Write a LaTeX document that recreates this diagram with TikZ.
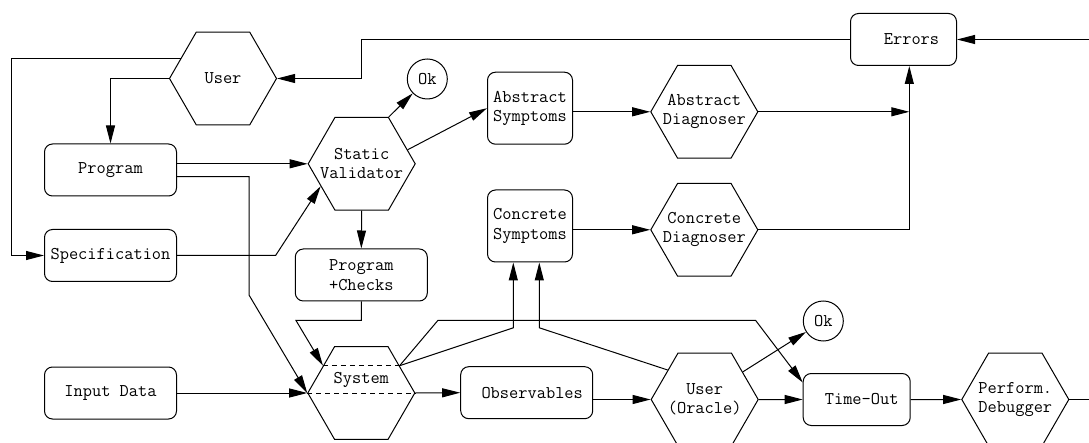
\documentclass[tikz,border=0pt]{standalone}
\usepackage{fontspec}
\usetikzlibrary{arrows.meta, positioning, shapes.geometric, calc}

\begin{document}
\begin{tikzpicture}[x=1pt, y=-1pt, line width=1pt,
    font=\ttfamily\fontsize{17.9}{19.3}\selectfont,
    >={Triangle[length=18pt, width=9pt]},
    B/.style={draw, rounded corners=8pt, minimum width=132pt, minimum height=52pt, inner sep=2pt, align=center},
    SB/.style={B, minimum width=85pt, minimum height=72pt},
    H/.style={draw, regular polygon, regular polygon sides=6, minimum size=107pt, inner sep=-10pt, align=center},
    OK/.style={draw, circle, minimum size=40pt, inner sep=0pt},
    dsh/.style={dash pattern=on 5pt off 4pt, line width=0.8pt}
  ]
  \useasboundingbox (0,0) rectangle (1089,443);
  % left column
  \node[H] (user) at (223,78.5) {User};
  \node[B] (prog) at (110.5,170) {Program};
  \node[B] (spec) at (110.5,255.5) {Specification};
  \node[B] (input) at (110.5,393) {Input Data};
  % validation
  \node[H] (sv) at (361.7,163.8) {Static\\Validator};
  \node[OK] (ok1) at (427.3,79) {Ok};
  \node[B] (pc) at (361.3,275) {Program\\+Checks};
  \node[H] (sys) at (361.3,393) {};
  \node (systxt) at ($(sys.center)+(0,-13)$) {System};
  \node[B] (obs) at (526.7,392.7) {\hspace{11pt}Observables};
  % symptoms and diagnosers
  \node[SB] (as) at (530,108.2) {Abstract\\Symptoms};
  \node[SB] (cs) at (530,226) {Concrete\\Symptoms};
  \node[H] (ad) at (704.3,111.8) {Abstract\\Diagnoser};
  \node[H] (cd) at (704.3,229.8) {Concrete\\Diagnoser};
  \node[B, minimum width=106pt] (err) at (903.5,39.5) {\hspace{16pt}Errors};
  % oracle and performance
  \node[H] (orc) at (704.7,399.5) {User\\(Oracle)};
  \node[OK] (ok2) at (823.3,321) {Ok};
  \node[B, minimum width=107pt] (tout) at (856.7,399.5) {\hspace{10pt}Time-Out};
  \node[H] (pd) at (1015.3,399.5) {Perform.\\Debugger};

  % points on hexagon sides
  \coordinate (sysTL) at ($(sys.west)!0.583!(sys.120)$);
  \coordinate (sysTR) at ($(sys.east)!0.583!(sys.60)$);
  \coordinate (uL) at ($(user.west)!0.43!(user.120)$);
  \coordinate (svLL) at ($(sv.west)!0.48!(sv.240)$);
  \coordinate (svUR) at ($(sv.east)!0.3!(sv.60)$);
  \coordinate (orcUL) at ($(orc.west)!0.63!(orc.120)$);
  \coordinate (orcUR) at ($(orc.east)!0.59!(orc.60)$);
  \coordinate (lft) at (11.7,0);
  \coordinate (rgt) at (1089,0);
  \coordinate (errin) at ($(err.south)+(5.8,0)$);

  \draw[dsh] (sysTL) -- (sysTR);
  \draw[dsh] (sys.west) -- (sys.east);

  % user and program
  \draw[->] (user.west) -| (prog.north);
  \draw[->] (uL) -- (uL -| lft) |- (spec.west);
  \draw[->] (err.west) -| (sv.north |- user.east) -- (user.east);
  \draw[->] (rgt |- err.east) -- (err.east);
  \draw[->] (prog.east |- sv.west) -- (sv.west);
  \draw[->] ($(prog.east)+(0,6.7)$) -| ($(prog.east)+(72,125)$) -- (sys.west);
  \draw[->] (spec.east) -- ++(98.6,0) -- (svLL);
  % static validator
  \draw[->] (sv.60) -- (ok1);
  \draw[->] (svUR) -- (as.west);
  \draw[->] (sv.south) -- (pc.north);
  \draw[->] (pc.south) -- ++(0,19) -- ++(-65.3,0) -- (sysTL);
  % execution
  \draw[->] (input.east) -- (sys.west);
  \draw[->] (sys.east) -- (obs.west);
  \draw[->] (obs.east |- orc.west) -- (orc.west);
  \draw[->] (orc.east) -- (tout.west);
  \draw[->] (tout.east) -- (pd.west);
  \draw (pd.east) -- (rgt |- pd.east);
  \draw[->] (orcUR) -- (ok2);
  \draw[->] (sysTR) -- ($(cs.south)+(-16.7,65.3)$) -- ($(cs.south)+(-16.7,0)$);
  \draw[->] (orcUL) -- ($(cs.south)+(9.3,65.3)$) -- ($(cs.south)+(9.3,0)$);
  \draw[->] (sysTR) -- ++(38.3,-45.3) -- ++(317.7,0) -- ($(tout.west)+(0,-17)$);
  % diagnosers to errors
  \draw[->] (as.east |- ad.west) -- (ad.west);
  \draw[->] (cs.east |- cd.west) -- (cd.west);
  \draw[->] (ad.east) -- (ad.east -| errin);
  \draw[->] (cd.east) -| (errin);
\end{tikzpicture}
\end{document}
